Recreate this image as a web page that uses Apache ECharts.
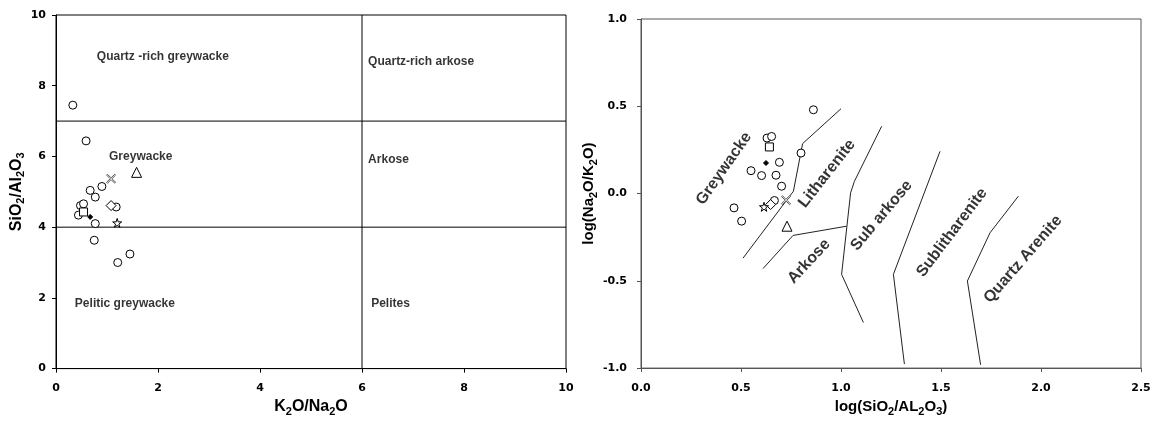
<!DOCTYPE html>
<html>
<head>
<meta charset="utf-8">
<script src="https://cdn.jsdelivr.net/npm/echarts@6/dist/echarts.min.js"></script>
<style>
  html, body { margin: 0; padding: 0; background: #fff; }
  #chart { width: 1154px; height: 422px; }
</style>
</head>
<body>
<div id="chart"></div>
<script>
// ---------- Left diagram: SiO2/Al2O3 vs K2O/Na2O ----------
const leftXTicks = [0, 2, 4, 6, 8, 10];
const leftYTicks = [0, 2, 4, 6, 8, 10];

const leftCircles = [
  [0.33, 7.45], [0.59, 6.44], [0.90, 5.15], [0.67, 5.04], [0.77, 4.85],
  [0.48, 4.61], [0.54, 4.66], [0.44, 4.34], [0.77, 4.10], [1.18, 4.57],
  [0.75, 3.63], [1.45, 3.24], [1.21, 3.00]
];
const leftDiamonds = [[1.08, 4.61]];
const leftSquares = [[0.54, 4.43]];
const leftTriangles = [[1.58, 5.55]];
const leftStars = [[1.20, 4.12]];
const leftCrosses = [[1.08, 5.37]];
const leftDots = [[0.67, 4.29]];

// field boundaries
const leftBoundUpper = [[0, 7], [10, 7]];
const leftBoundLower = [[0, 4], [10, 4]];
const leftBoundSplit = [[6, 0], [6, 10]];

const leftFieldNames = ['Quartz -rich greywacke', 'Quartz-rich arkose', 'Greywacke', 'Arkose', 'Pelitic greywacke', 'Pelites'];
const leftFieldAnchors = [[0.80, 8.82], [6.12, 8.68], [1.04, 5.98], [6.12, 5.90], [0.37, 1.83], [6.18, 1.83]];

// ---------- Right diagram: log(Na2O/K2O) vs log(SiO2/Al2O3) ----------
const rightXTicks = [0.0, 0.5, 1.0, 1.5, 2.0, 2.5];
const rightYTicks = [-1.0, -0.5, 0.0, 0.5, 1.0];

const rightCircles = [
  [0.862, 0.480], [0.630, 0.318], [0.653, 0.327], [0.692, 0.179], [0.800, 0.232],
  [0.550, 0.131], [0.603, 0.103], [0.675, 0.105], [0.703, 0.042], [0.465, -0.082],
  [0.503, -0.158], [0.667, -0.040]
];
const rightDiamonds = [[0.648, -0.063]];
const rightSquares = [[0.642, 0.267]];
const rightTriangles = [[0.730, -0.187]];
const rightStars = [[0.615, -0.076]];
const rightCrosses = [[0.725, -0.038]];
const rightDots = [[0.625, 0.175]];

const rightBound1 = [[0.51, -0.37], [0.762, 0.013], [0.808, 0.286], [1.0, 0.486]];
const rightBound2 = [[0.61, -0.43], [0.76, -0.24], [1.028, -0.187]];
const rightBound3 = [[1.203, 0.385], [1.067, 0.07], [1.048, 0.004], [1.003, -0.463], [1.112, -0.739]];
const rightBound4 = [[1.495, 0.242], [1.262, -0.463], [1.317, -0.977]];
const rightBound5 = [[1.887, -0.015], [1.745, -0.225], [1.632, -0.501], [1.698, -0.981]];

const rightFieldNames = ['Greywacke', 'Litharenite', 'Arkose', 'Sub arkose', 'Sublitharenite', 'Quartz Arenite'];
const rightFieldAnchors = [[0.415, 0.143], [0.93, 0.114], [0.84, -0.389], [1.2025, -0.126], [1.555, -0.223], [1.91, -0.377]];
const rightFieldAngles = [55, 52, 47, 50, 53, 49];

// ---------- shared styling ----------
const FONT = 'Liberation Sans, Arial, sans-serif';
const TICK_FONT = 'DejaVu Sans, sans-serif';
const STAR = 'path://M50,0 L61,35 L98,35 L68,57 L79,91 L50,70 L21,91 L32,57 L2,35 L39,35 Z';
const CROSS = 'path://M0,10 L10,0 L50,40 L90,0 L100,10 L60,50 L100,90 L90,100 L50,60 L10,100 L0,90 L40,50 Z';

const nameRich = {
  n: { fontFamily: FONT, fontWeight: 'bold', fontSize: 16, color: '#000' },
  s: { fontFamily: FONT, fontWeight: 'bold', fontSize: 11, color: '#000', padding: [10, 0, 0, 0] }
};

function axisBase(color, min, max, interval, fmt, margin) {
  return {
    type: 'value', min: min, max: max, interval: interval,
    axisLine: { show: true, onZero: false, lineStyle: { color: color, width: 1 } },
    axisTick: { show: true, length: 4, inside: false, lineStyle: { color: color } },
    splitLine: { show: false },
    axisLabel: {
      fontFamily: TICK_FONT, fontWeight: 'bold', fontSize: 11, color: '#000',
      margin: margin, formatter: fmt
    },
    nameLocation: 'middle',
    nameTextStyle: { rich: nameRich }
  };
}

function markerSeries(xi, yi, data, symbol, size, fill, stroke) {
  return {
    type: 'scatter', xAxisIndex: xi, yAxisIndex: yi, data: data,
    symbol: symbol, symbolSize: size, silent: true, z: 5,
    itemStyle: { color: fill, borderColor: stroke, borderWidth: 1, opacity: 1 }
  };
}

function lineSeries(xi, yi, data, color) {
  return {
    type: 'line', xAxisIndex: xi, yAxisIndex: yi, data: data,
    showSymbol: false, symbol: 'none', silent: true, z: 2,
    lineStyle: { color: color, width: 1 }
  };
}

function samples(xi, yi, set) {
  return [
    markerSeries(xi, yi, set.circles, 'circle', 8, '#fff', '#000'),
    markerSeries(xi, yi, set.diamonds, 'diamond', 10, '#fff', '#000'),
    markerSeries(xi, yi, set.squares, 'rect', 8, '#fff', '#000'),
    markerSeries(xi, yi, set.triangles, 'triangle', 10, '#fff', '#000'),
    markerSeries(xi, yi, set.stars, STAR, 9, '#fff', '#000'),
    markerSeries(xi, yi, set.crosses, CROSS, 9, '#fff', '#555'),
    markerSeries(xi, yi, set.dots, 'diamond', 5, '#000', '#000')
  ];
}

const leftLabelData = leftFieldNames.map((n, i) => ({ name: n, value: leftFieldAnchors[i] }));
const rightLabelData = rightFieldNames.map((n, i) => ({
  name: n, value: rightFieldAnchors[i], label: { rotate: rightFieldAngles[i] }
}));

const leftX = axisBase('#000', 0, 10, 2, v => String(v), 14);
leftX.gridIndex = 0;
leftX.name = '{n|K}{s|2}{n|O/Na}{s|2}{n|O}';
leftX.nameGap = 24;

const leftY = axisBase('#000', 0, 10, 2, v => String(v), 10);
leftY.gridIndex = 0;
leftY.name = '{n|SiO}{s|2}{n|/Al}{s|2}{n|O}{s|3}';
leftY.nameGap = 21;
leftY.nameRotate = 90;

const rightX = axisBase('#555', 0, 2.5, 0.5, v => v.toFixed(1), 15);
rightX.gridIndex = 1;
rightX.name = '{n|log(SiO}{s|2}{n|/AL}{s|2}{n|O}{s|3}{n|)}';
rightX.nameGap = 26;
rightX.nameTextStyle = { rich: Object.assign({}, nameRich, {
  n: Object.assign({}, nameRich.n, { fontSize: 15 }) }) };

const rightY = axisBase('#555', -1, 1, 0.5, v => v.toFixed(1), 14);
rightY.gridIndex = 1;
rightY.name = '{n|log(Na}{s|2}{n|O/K}{s|2}{n|O)}';
rightY.nameGap = 42;
rightY.nameRotate = 90;
rightY.nameTextStyle = { rich: Object.assign({}, nameRich, {
  n: Object.assign({}, nameRich.n, { fontSize: 15 }) }) };

const chart = echarts.init(document.getElementById('chart'), null, { renderer: 'canvas' });
chart.setOption({
  animation: false,
  backgroundColor: '#fff',
  grid: [
    { left: 56, top: 15, width: 510, height: 356, show: true, borderColor: '#000', borderWidth: 1, backgroundColor: 'transparent' },
    { left: 641, top: 19, width: 500, height: 350, show: true, borderColor: '#555', borderWidth: 1, backgroundColor: 'transparent' }
  ],
  xAxis: [leftX, rightX],
  yAxis: [leftY, rightY],
  series: [
    lineSeries(0, 0, leftBoundUpper, '#000'),
    lineSeries(0, 0, leftBoundLower, '#000'),
    lineSeries(0, 0, leftBoundSplit, '#000'),
    {
      type: 'scatter', xAxisIndex: 0, yAxisIndex: 0, data: leftLabelData,
      symbolSize: 0, silent: true, z: 4,
      label: {
        show: true, position: 'right', distance: 0, formatter: p => p.name,
        fontFamily: FONT, fontWeight: 'bold', fontSize: 12, color: '#000'
      }
    },
    ...samples(0, 0, {
      circles: leftCircles, diamonds: leftDiamonds, squares: leftSquares,
      triangles: leftTriangles, stars: leftStars, crosses: leftCrosses, dots: leftDots
    }),

    lineSeries(1, 1, rightBound1, '#222'),
    lineSeries(1, 1, rightBound2, '#222'),
    lineSeries(1, 1, rightBound3, '#222'),
    lineSeries(1, 1, rightBound4, '#222'),
    lineSeries(1, 1, rightBound5, '#222'),
    {
      type: 'scatter', xAxisIndex: 1, yAxisIndex: 1, data: rightLabelData,
      symbolSize: 0, silent: true, z: 4,
      label: {
        show: true, position: 'inside', formatter: p => p.name,
        fontFamily: FONT, fontWeight: 'bold', fontSize: 16, color: '#000'
      }
    },
    ...samples(1, 1, {
      circles: rightCircles, diamonds: rightDiamonds, squares: rightSquares,
      triangles: rightTriangles, stars: rightStars, crosses: rightCrosses, dots: rightDots
    })
  ]
});
</script>
</body>
</html>
